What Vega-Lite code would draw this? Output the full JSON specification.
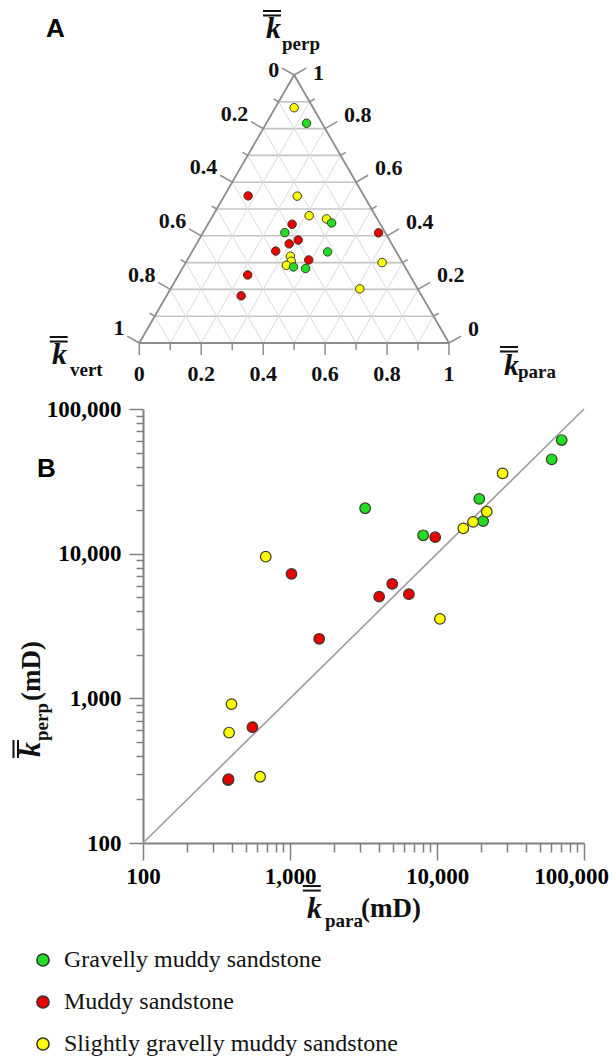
{
  "$schema": "https://vega.github.io/schema/vega-lite/v6.json",
  "background": "white",
  "padding": 0,
  "bounds": "flush",
  "spacing": 66,
  "config": {"view": {"stroke": null}},
  "resolve": {"scale": {"x": "independent", "y": "independent"}},
  "datasets": {
    "tern": [
      {"group": "Slightly gravelly muddy sandstone", "para": 0.061, "perp": 0.878, "vert": 0.061},
      {"group": "Gravelly muddy sandstone", "para": 0.130, "perp": 0.820, "vert": 0.050},
      {"group": "Muddy sandstone", "para": 0.077, "perp": 0.549, "vert": 0.374},
      {"group": "Slightly gravelly muddy sandstone", "para": 0.236, "perp": 0.548, "vert": 0.216},
      {"group": "Slightly gravelly muddy sandstone", "para": 0.311, "perp": 0.475, "vert": 0.214},
      {"group": "Slightly gravelly muddy sandstone", "para": 0.373, "perp": 0.463, "vert": 0.164},
      {"group": "Gravelly muddy sandstone", "para": 0.397, "perp": 0.448, "vert": 0.155},
      {"group": "Muddy sandstone", "para": 0.272, "perp": 0.443, "vert": 0.285},
      {"group": "Gravelly muddy sandstone", "para": 0.264, "perp": 0.412, "vert": 0.324},
      {"group": "Muddy sandstone", "para": 0.567, "perp": 0.411, "vert": 0.022},
      {"group": "Muddy sandstone", "para": 0.321, "perp": 0.384, "vert": 0.295},
      {"group": "Muddy sandstone", "para": 0.299, "perp": 0.370, "vert": 0.331},
      {"group": "Muddy sandstone", "para": 0.269, "perp": 0.343, "vert": 0.388},
      {"group": "Gravelly muddy sandstone", "para": 0.438, "perp": 0.340, "vert": 0.222},
      {"group": "Slightly gravelly muddy sandstone", "para": 0.326, "perp": 0.324, "vert": 0.350},
      {"group": "Slightly gravelly muddy sandstone", "para": 0.338, "perp": 0.305, "vert": 0.357},
      {"group": "Muddy sandstone", "para": 0.392, "perp": 0.310, "vert": 0.298},
      {"group": "Slightly gravelly muddy sandstone", "para": 0.634, "perp": 0.300, "vert": 0.066},
      {"group": "Slightly gravelly muddy sandstone", "para": 0.330, "perp": 0.290, "vert": 0.380},
      {"group": "Gravelly muddy sandstone", "para": 0.356, "perp": 0.284, "vert": 0.360},
      {"group": "Gravelly muddy sandstone", "para": 0.398, "perp": 0.278, "vert": 0.324},
      {"group": "Muddy sandstone", "para": 0.223, "perp": 0.254, "vert": 0.523},
      {"group": "Slightly gravelly muddy sandstone", "para": 0.611, "perp": 0.202, "vert": 0.187},
      {"group": "Muddy sandstone", "para": 0.241, "perp": 0.176, "vert": 0.583}
    ],
    "perm": [
      {"group": "Gravelly muddy sandstone", "kpara": 3245, "kperp": 20600},
      {"group": "Gravelly muddy sandstone", "kpara": 8050, "kperp": 13400},
      {"group": "Gravelly muddy sandstone", "kpara": 20600, "kperp": 16800},
      {"group": "Gravelly muddy sandstone", "kpara": 19400, "kperp": 23900},
      {"group": "Gravelly muddy sandstone", "kpara": 60300, "kperp": 44900},
      {"group": "Gravelly muddy sandstone", "kpara": 70500, "kperp": 61000},
      {"group": "Muddy sandstone", "kpara": 1024, "kperp": 7240},
      {"group": "Muddy sandstone", "kpara": 9720, "kperp": 13000},
      {"group": "Muddy sandstone", "kpara": 4040, "kperp": 5050},
      {"group": "Muddy sandstone", "kpara": 4960, "kperp": 6180},
      {"group": "Muddy sandstone", "kpara": 6440, "kperp": 5250},
      {"group": "Muddy sandstone", "kpara": 1580, "kperp": 2580},
      {"group": "Muddy sandstone", "kpara": 555, "kperp": 632},
      {"group": "Muddy sandstone", "kpara": 379, "kperp": 272},
      {"group": "Muddy sandstone", "kpara": 382, "kperp": 276},
      {"group": "Slightly gravelly muddy sandstone", "kpara": 684, "kperp": 9530},
      {"group": "Slightly gravelly muddy sandstone", "kpara": 15100, "kperp": 14970},
      {"group": "Slightly gravelly muddy sandstone", "kpara": 17600, "kperp": 16600},
      {"group": "Slightly gravelly muddy sandstone", "kpara": 21800, "kperp": 19500},
      {"group": "Slightly gravelly muddy sandstone", "kpara": 27950, "kperp": 35900},
      {"group": "Slightly gravelly muddy sandstone", "kpara": 10470, "kperp": 3540},
      {"group": "Slightly gravelly muddy sandstone", "kpara": 400, "kperp": 912},
      {"group": "Slightly gravelly muddy sandstone", "kpara": 385, "kperp": 580},
      {"group": "Slightly gravelly muddy sandstone", "kpara": 626, "kperp": 287}
    ],
    "grid": [
      {"fam": "perp", "v": 0.1}, {"fam": "perp", "v": 0.2}, {"fam": "perp", "v": 0.3}, {"fam": "perp", "v": 0.4}, {"fam": "perp", "v": 0.5}, {"fam": "perp", "v": 0.6}, {"fam": "perp", "v": 0.7}, {"fam": "perp", "v": 0.8}, {"fam": "perp", "v": 0.9},
      {"fam": "para", "v": 0.1}, {"fam": "para", "v": 0.2}, {"fam": "para", "v": 0.3}, {"fam": "para", "v": 0.4}, {"fam": "para", "v": 0.5}, {"fam": "para", "v": 0.6}, {"fam": "para", "v": 0.7}, {"fam": "para", "v": 0.8}, {"fam": "para", "v": 0.9},
      {"fam": "vert", "v": 0.1}, {"fam": "vert", "v": 0.2}, {"fam": "vert", "v": 0.3}, {"fam": "vert", "v": 0.4}, {"fam": "vert", "v": 0.5}, {"fam": "vert", "v": 0.6}, {"fam": "vert", "v": 0.7}, {"fam": "vert", "v": 0.8}, {"fam": "vert", "v": 0.9}
    ],
    "outline": [
      {"pa1": 0, "pe1": 0, "pa2": 1, "pe2": 0},
      {"pa1": 0, "pe1": 0, "pa2": 0, "pe2": 1},
      {"pa1": 1, "pe1": 0, "pa2": 0, "pe2": 1}
    ],
    "ticks": [
      {"side": "bottom", "v": 0}, {"side": "bottom", "v": 0.1}, {"side": "bottom", "v": 0.2}, {"side": "bottom", "v": 0.3}, {"side": "bottom", "v": 0.4}, {"side": "bottom", "v": 0.5}, {"side": "bottom", "v": 0.6}, {"side": "bottom", "v": 0.7}, {"side": "bottom", "v": 0.8}, {"side": "bottom", "v": 0.9}, {"side": "bottom", "v": 1},
      {"side": "left", "v": 0}, {"side": "left", "v": 0.1}, {"side": "left", "v": 0.2}, {"side": "left", "v": 0.3}, {"side": "left", "v": 0.4}, {"side": "left", "v": 0.5}, {"side": "left", "v": 0.6}, {"side": "left", "v": 0.7}, {"side": "left", "v": 0.8}, {"side": "left", "v": 0.9}, {"side": "left", "v": 1},
      {"side": "right", "v": 0}, {"side": "right", "v": 0.1}, {"side": "right", "v": 0.2}, {"side": "right", "v": 0.3}, {"side": "right", "v": 0.4}, {"side": "right", "v": 0.5}, {"side": "right", "v": 0.6}, {"side": "right", "v": 0.7}, {"side": "right", "v": 0.8}, {"side": "right", "v": 0.9}, {"side": "right", "v": 1}
    ]
  },
  "vconcat": [
    {
      "width": 306,
      "height": 268,
      "layer": [
        {
          "data": {"name": "grid"},
          "transform": [
            {"calculate": "datum.fam == 'perp' ? datum.v / 2 : (datum.fam == 'para' ? datum.v : 1 - datum.v)", "as": "x"},
            {"calculate": "datum.fam == 'perp' ? datum.v * 0.866 : 0", "as": "y"},
            {"calculate": "datum.fam == 'perp' ? 1 - datum.v / 2 : (datum.fam == 'para' ? (1 + datum.v) / 2 : (1 - datum.v) / 2)", "as": "x2"},
            {"calculate": "datum.fam == 'perp' ? datum.v * 0.866 : (1 - datum.v) * 0.866", "as": "y2"}
          ],
          "mark": {"type": "rule"},
          "encoding": {
            "x": {"field": "x", "type": "quantitative", "scale": {"domain": [0.012, 1], "nice": false, "zero": false}, "axis": null},
            "y": {"field": "y", "type": "quantitative", "scale": {"domain": [0, 0.866], "nice": false, "zero": false}, "axis": null},
            "x2": {"field": "x2"},
            "y2": {"field": "y2"},
            "stroke": {"condition": {"test": "datum.fam == 'perp'", "value": "#c4c4c4"}, "value": "#dadada"},
            "strokeWidth": {"condition": {"test": "datum.fam == 'perp'", "value": 1.6}, "value": 1}
          }
        },
        {
          "data": {"name": "outline"},
          "transform": [
            {"calculate": "datum.pa1 + datum.pe1 / 2", "as": "x"},
            {"calculate": "datum.pe1 * 0.866", "as": "y"},
            {"calculate": "datum.pa2 + datum.pe2 / 2", "as": "x2"},
            {"calculate": "datum.pe2 * 0.866", "as": "y2"}
          ],
          "mark": {"type": "rule", "color": "#8c8c8c", "strokeWidth": 1.8},
          "encoding": {
            "x": {"field": "x", "type": "quantitative"},
            "y": {"field": "y", "type": "quantitative"},
            "x2": {"field": "x2"},
            "y2": {"field": "y2"}
          }
        },
        {
          "data": {"name": "ticks"},
          "transform": [
            {"calculate": "abs(datum.v * 5 - round(datum.v * 5)) < 0.001", "as": "major"},
            {"calculate": "datum.side == 'bottom' ? datum.v : (datum.side == 'left' ? (1 - datum.v) / 2 : 1 - datum.v / 2)", "as": "bx"},
            {"calculate": "datum.side == 'bottom' ? 0 : (datum.side == 'left' ? (1 - datum.v) * 0.866 : datum.v * 0.866)", "as": "by"},
            {"calculate": "datum.side == 'bottom' ? (datum.major ? 0.039 : 0.023) : (datum.major ? 0.045 : 0.019)", "as": "len"},
            {"calculate": "datum.side == 'bottom' ? datum.bx : (datum.side == 'left' ? datum.bx - 0.866 * datum.len : datum.bx + 0.866 * datum.len)", "as": "ex"},
            {"calculate": "datum.side == 'bottom' ? -datum.len : datum.by + 0.5 * datum.len", "as": "ey"}
          ],
          "mark": {"type": "rule", "color": "#8c8c8c", "strokeWidth": 1.5},
          "encoding": {
            "x": {"field": "bx", "type": "quantitative"},
            "y": {"field": "by", "type": "quantitative"},
            "x2": {"field": "ex"},
            "y2": {"field": "ey"}
          }
        },
        {
          "data": {"name": "ticks"},
          "transform": [
            {"filter": "datum.side == 'bottom' && abs(datum.v * 5 - round(datum.v * 5)) < 0.001"},
            {"calculate": "-0.1", "as": "ly"}
          ],
          "mark": {"type": "text", "align": "center", "baseline": "middle", "font": "Liberation Serif", "fontWeight": "bold", "fontSize": 22, "color": "#111"},
          "encoding": {
            "x": {"field": "v", "type": "quantitative"},
            "y": {"field": "ly", "type": "quantitative"},
            "text": {"field": "v", "type": "quantitative", "format": "~g"}
          }
        },
        {
          "data": {"name": "ticks"},
          "transform": [
            {"filter": "datum.side == 'left' && abs(datum.v * 5 - round(datum.v * 5)) < 0.001"},
            {"calculate": "(1 - datum.v) / 2 - 0.048", "as": "lx"},
            {"calculate": "(1 - datum.v) * 0.866 + (datum.v == 0 ? 0.015 : 0.048)", "as": "ly"}
          ],
          "mark": {"type": "text", "align": "right", "baseline": "middle", "font": "Liberation Serif", "fontWeight": "bold", "fontSize": 22, "color": "#111"},
          "encoding": {
            "x": {"field": "lx", "type": "quantitative"},
            "y": {"field": "ly", "type": "quantitative"},
            "text": {"field": "v", "type": "quantitative", "format": "~g"}
          }
        },
        {
          "data": {"name": "ticks"},
          "transform": [
            {"filter": "datum.side == 'right' && abs(datum.v * 5 - round(datum.v * 5)) < 0.001"},
            {"calculate": "1 - datum.v / 2 + 0.061", "as": "lx"},
            {"calculate": "datum.v * 0.866 + (datum.v == 1 ? 0.008 : 0.045)", "as": "ly"}
          ],
          "mark": {"type": "text", "align": "left", "baseline": "middle", "font": "Liberation Serif", "fontWeight": "bold", "fontSize": 22, "color": "#111"},
          "encoding": {
            "x": {"field": "lx", "type": "quantitative"},
            "y": {"field": "ly", "type": "quantitative"},
            "text": {"field": "v", "type": "quantitative", "format": "~g"}
          }
        },
        {
          "data": {"name": "tern"},
          "transform": [
            {"calculate": "datum.para + datum.perp / 2", "as": "x"},
            {"calculate": "datum.perp * 0.866", "as": "y"}
          ],
          "mark": {"type": "circle", "size": 72, "opacity": 1, "stroke": "#3a3a2a", "strokeWidth": 1},
          "encoding": {
            "x": {"field": "x", "type": "quantitative"},
            "y": {"field": "y", "type": "quantitative"},
            "color": {
              "field": "group", "type": "nominal",
              "scale": {"domain": ["Gravelly muddy sandstone", "Muddy sandstone", "Slightly gravelly muddy sandstone"], "range": ["#22dd22", "#e80000", "#ffff00"]},
              "legend": {"title": null, "orient": "none", "legendX": -112, "legendY": 873, "direction": "vertical", "symbolType": "circle", "symbolSize": 150, "symbolStrokeColor": "#333333", "symbolStrokeWidth": 1.5, "symbolOpacity": 1, "labelFont": "Liberation Serif", "labelFontSize": 24, "labelColor": "#111111", "labelOffset": 9, "labelLimit": 0, "rowPadding": 18, "padding": 0}
            }
          }
        },
        {
          "data": {"values": [{"t": "A"}]},
          "mark": {"type": "text", "align": "left", "baseline": "alphabetic", "font": "Liberation Sans", "fontWeight": "bold", "fontSize": 26, "color": "#000"},
          "encoding": {"x": {"datum": -0.3013, "type": "quantitative"}, "y": {"datum": 0.9898, "type": "quantitative"}, "text": {"field": "t"}}
        },
        {
          "data": {"values": [{"t": "overline"}]},
          "mark": {"type": "rule", "color": "#111", "strokeWidth": 2},
          "encoding": {"x": {"datum": 0.3994, "type": "quantitative"}, "x2": {"datum": 0.4575}, "y": {"datum": 1.0728, "type": "quantitative"}}
        },
        {
          "data": {"values": [{"t": "overline"}]},
          "mark": {"type": "rule", "color": "#111", "strokeWidth": 2},
          "encoding": {"x": {"datum": 0.3994, "type": "quantitative"}, "x2": {"datum": 0.4575}, "y": {"datum": 1.0583, "type": "quantitative"}}
        },
        {
          "data": {"values": [{"t": "k"}]},
          "mark": {"type": "text", "align": "left", "baseline": "alphabetic", "font": "Liberation Serif", "fontWeight": "bold", "fontStyle": "italic", "fontSize": 30, "color": "#111"},
          "encoding": {"x": {"datum": 0.4091, "type": "quantitative"}, "y": {"datum": 0.9846, "type": "quantitative"}, "text": {"field": "t"}}
        },
        {
          "data": {"values": [{"t": "perp"}]},
          "mark": {"type": "text", "align": "left", "baseline": "alphabetic", "font": "Liberation Serif", "fontWeight": "bold", "fontSize": 19, "color": "#111"},
          "encoding": {"x": {"datum": 0.4608, "type": "quantitative"}, "y": {"datum": 0.9468, "type": "quantitative"}, "text": {"field": "t"}}
        },
        {
          "data": {"values": [{"t": "overline"}]},
          "mark": {"type": "rule", "color": "#111", "strokeWidth": 2},
          "encoding": {"x": {"datum": -0.289, "type": "quantitative"}, "x2": {"datum": -0.2312}, "y": {"datum": 0.0194, "type": "quantitative"}}
        },
        {
          "data": {"values": [{"t": "overline"}]},
          "mark": {"type": "rule", "color": "#111", "strokeWidth": 2},
          "encoding": {"x": {"datum": -0.289, "type": "quantitative"}, "x2": {"datum": -0.2312}, "y": {"datum": 0.0048, "type": "quantitative"}}
        },
        {
          "data": {"values": [{"t": "k"}]},
          "mark": {"type": "text", "align": "left", "baseline": "alphabetic", "font": "Liberation Serif", "fontWeight": "bold", "fontStyle": "italic", "fontSize": 30, "color": "#111"},
          "encoding": {"x": {"datum": -0.282, "type": "quantitative"}, "y": {"datum": -0.0679, "type": "quantitative"}, "text": {"field": "t"}}
        },
        {
          "data": {"values": [{"t": "vert"}]},
          "mark": {"type": "text", "align": "left", "baseline": "alphabetic", "font": "Liberation Serif", "fontWeight": "bold", "fontSize": 19, "color": "#111"},
          "encoding": {"x": {"datum": -0.2238, "type": "quantitative"}, "y": {"datum": -0.1066, "type": "quantitative"}, "text": {"field": "t"}}
        },
        {
          "data": {"values": [{"t": "overline"}]},
          "mark": {"type": "rule", "color": "#111", "strokeWidth": 2},
          "encoding": {"x": {"datum": 1.1647, "type": "quantitative"}, "x2": {"datum": 1.2228}, "y": {"datum": -0.0129, "type": "quantitative"}}
        },
        {
          "data": {"values": [{"t": "overline"}]},
          "mark": {"type": "rule", "color": "#111", "strokeWidth": 2},
          "encoding": {"x": {"datum": 1.1647, "type": "quantitative"}, "x2": {"datum": 1.2228}, "y": {"datum": -0.0275, "type": "quantitative"}}
        },
        {
          "data": {"values": [{"t": "k"}]},
          "mark": {"type": "text", "align": "left", "baseline": "alphabetic", "font": "Liberation Serif", "fontWeight": "bold", "fontStyle": "italic", "fontSize": 30, "color": "#111"},
          "encoding": {"x": {"datum": 1.1776, "type": "quantitative"}, "y": {"datum": -0.1034, "type": "quantitative"}, "text": {"field": "t"}}
        },
        {
          "data": {"values": [{"t": "para"}]},
          "mark": {"type": "text", "align": "left", "baseline": "alphabetic", "font": "Liberation Serif", "fontWeight": "bold", "fontSize": 19, "color": "#111"},
          "encoding": {"x": {"datum": 1.2228, "type": "quantitative"}, "y": {"datum": -0.1131, "type": "quantitative"}, "text": {"field": "t"}}
        },
        {
          "data": {"values": [{"t": "anchor"}]},
          "mark": {"type": "rule", "opacity": 0},
          "encoding": {"x": {"datum": -0.44971, "type": "quantitative"}, "y": {"datum": 1.10835, "type": "quantitative"}, "x2": {"datum": -0.44971}, "y2": {"datum": 1.10835}}
        }
      ]
    },
    {
      "width": 441,
      "height": 434,
      "layer": [
        {
          "data": {"values": [{"k": 100}, {"k": 100000}]},
          "mark": {"type": "line", "color": "#9c9c9c", "strokeWidth": 1.6},
          "encoding": {
            "x": {
              "field": "k", "type": "quantitative",
              "scale": {"type": "log", "domain": [100, 100000], "nice": false},
              "axis": {
                "title": null, "grid": false,
                "values": [100, 200, 300, 400, 500, 600, 700, 800, 900, 1000, 2000, 3000, 4000, 5000, 6000, 7000, 8000, 9000, 10000, 20000, 30000, 40000, 50000, 60000, 70000, 80000, 90000, 100000],
                "format": ",",
                "labelExpr": "(datum.value == 100 || datum.value == 1000 || datum.value == 10000 || datum.value == 100000) ? datum.label : ''",
                "domainColor": "#808080", "domainWidth": 2, "tickColor": "#808080", "tickWidth": 1.5,
                "tickSize": {"condition": {"test": "datum.value == 100 || datum.value == 1000 || datum.value == 10000 || datum.value == 100000", "value": 17}, "value": 9},
                "labelFont": "Liberation Serif", "labelFontWeight": "bold", "labelFontSize": 23, "labelColor": "#000",
                "labelPadding": 5, "labelOverlap": false, "labelFlush": false,
                "labelOffset": {"condition": {"test": "datum.value == 100000", "value": -13}, "value": 0}
              }
            },
            "y": {
              "field": "k", "type": "quantitative",
              "scale": {"type": "log", "domain": [100, 100000], "nice": false},
              "axis": {
                "title": null, "grid": false,
                "values": [100, 200, 300, 400, 500, 600, 700, 800, 900, 1000, 2000, 3000, 4000, 5000, 6000, 7000, 8000, 9000, 10000, 20000, 30000, 40000, 50000, 60000, 70000, 80000, 90000, 100000],
                "format": ",",
                "labelExpr": "(datum.value == 100 || datum.value == 1000 || datum.value == 10000 || datum.value == 100000) ? datum.label : ''",
                "domainColor": "#808080", "domainWidth": 2, "tickColor": "#808080", "tickWidth": 1.5,
                "tickSize": {"condition": {"test": "datum.value == 100 || datum.value == 1000 || datum.value == 10000 || datum.value == 100000", "value": 14}, "value": 7},
                "labelFont": "Liberation Serif", "labelFontWeight": "bold", "labelFontSize": 23, "labelColor": "#000",
                "labelPadding": 8, "labelOverlap": false, "labelFlush": false
              }
            }
          }
        },
        {
          "data": {"name": "perm"},
          "mark": {"type": "circle", "size": 112, "opacity": 1, "stroke": "#3a3a2a", "strokeWidth": 1.2},
          "encoding": {
            "x": {"field": "kpara", "type": "quantitative"},
            "y": {"field": "kperp", "type": "quantitative"},
            "color": {
              "field": "group", "type": "nominal",
              "scale": {"domain": ["Gravelly muddy sandstone", "Muddy sandstone", "Slightly gravelly muddy sandstone"], "range": ["#22dd22", "#e80000", "#ffff00"]},
              "legend": {"title": null, "orient": "none", "legendX": -112, "legendY": 873, "direction": "vertical", "symbolType": "circle", "symbolSize": 150, "symbolStrokeColor": "#333333", "symbolStrokeWidth": 1.5, "symbolOpacity": 1, "labelFont": "Liberation Serif", "labelFontSize": 24, "labelColor": "#111111", "labelOffset": 9, "labelLimit": 0, "rowPadding": 18, "padding": 0}
            }
          }
        },
        {
          "data": {"values": [{"t": "B"}]},
          "mark": {"type": "text", "align": "left", "baseline": "alphabetic", "font": "Liberation Sans", "fontWeight": "bold", "fontSize": 26, "color": "#000"},
          "encoding": {"x": {"datum": 19.0, "type": "quantitative"}, "y": {"datum": 33880, "type": "quantitative"}, "text": {"field": "t"}}
        },
        {
          "data": {"values": [{"t": "overline"}]},
          "mark": {"type": "rule", "color": "#111", "strokeWidth": 2},
          "encoding": {"x": {"datum": 1222, "type": "quantitative"}, "x2": {"datum": 1618}, "y": {"datum": 50.4, "type": "quantitative"}}
        },
        {
          "data": {"values": [{"t": "overline"}]},
          "mark": {"type": "rule", "color": "#111", "strokeWidth": 2},
          "encoding": {"x": {"datum": 1222, "type": "quantitative"}, "x2": {"datum": 1618}, "y": {"datum": 46.9, "type": "quantitative"}}
        },
        {
          "data": {"values": [{"t": "k"}]},
          "mark": {"type": "text", "align": "left", "baseline": "alphabetic", "font": "Liberation Serif", "fontWeight": "bold", "fontStyle": "italic", "fontSize": 30, "color": "#111"},
          "encoding": {"x": {"datum": 1305, "type": "quantitative"}, "y": {"datum": 30.3, "type": "quantitative"}, "text": {"field": "t"}}
        },
        {
          "data": {"values": [{"t": "para"}]},
          "mark": {"type": "text", "align": "left", "baseline": "alphabetic", "font": "Liberation Serif", "fontWeight": "bold", "fontSize": 19, "color": "#111"},
          "encoding": {"x": {"datum": 1730, "type": "quantitative"}, "y": {"datum": 26.3, "type": "quantitative"}, "text": {"field": "t"}}
        },
        {
          "data": {"values": [{"t": "(mD)"}]},
          "mark": {"type": "text", "align": "left", "baseline": "alphabetic", "font": "Liberation Serif", "fontWeight": "bold", "fontSize": 27, "color": "#111"},
          "encoding": {"x": {"datum": 3041, "type": "quantitative"}, "y": {"datum": 30.8, "type": "quantitative"}, "text": {"field": "t"}}
        },
        {
          "data": {"values": [{"t": "overline"}]},
          "mark": {"type": "rule", "color": "#111", "strokeWidth": 2},
          "encoding": {"x": {"datum": 13.15, "type": "quantitative"}, "y": {"datum": 387, "type": "quantitative"}, "y2": {"datum": 515}}
        },
        {
          "data": {"values": [{"t": "overline"}]},
          "mark": {"type": "rule", "color": "#111", "strokeWidth": 2},
          "encoding": {"x": {"datum": 14.11, "type": "quantitative"}, "y": {"datum": 387, "type": "quantitative"}, "y2": {"datum": 515}}
        },
        {
          "data": {"values": [{"t": "k"}]},
          "mark": {"type": "text", "align": "left", "baseline": "alphabetic", "angle": 270, "font": "Liberation Serif", "fontWeight": "bold", "fontStyle": "italic", "fontSize": 30, "color": "#111"},
          "encoding": {"x": {"datum": 19.9, "type": "quantitative"}, "y": {"datum": 393, "type": "quantitative"}, "text": {"field": "t"}}
        },
        {
          "data": {"values": [{"t": "perp"}]},
          "mark": {"type": "text", "align": "left", "baseline": "alphabetic", "angle": 270, "font": "Liberation Serif", "fontWeight": "bold", "fontSize": 19, "color": "#111"},
          "encoding": {"x": {"datum": 22.6, "type": "quantitative"}, "y": {"datum": 507, "type": "quantitative"}, "text": {"field": "t"}}
        },
        {
          "data": {"values": [{"t": "(mD)"}]},
          "mark": {"type": "text", "align": "left", "baseline": "alphabetic", "angle": 270, "font": "Liberation Serif", "fontWeight": "bold", "fontSize": 27, "color": "#111"},
          "encoding": {"x": {"datum": 19.9, "type": "quantitative"}, "y": {"datum": 958, "type": "quantitative"}, "text": {"field": "t"}}
        }
      ]
    }
  ]
}
